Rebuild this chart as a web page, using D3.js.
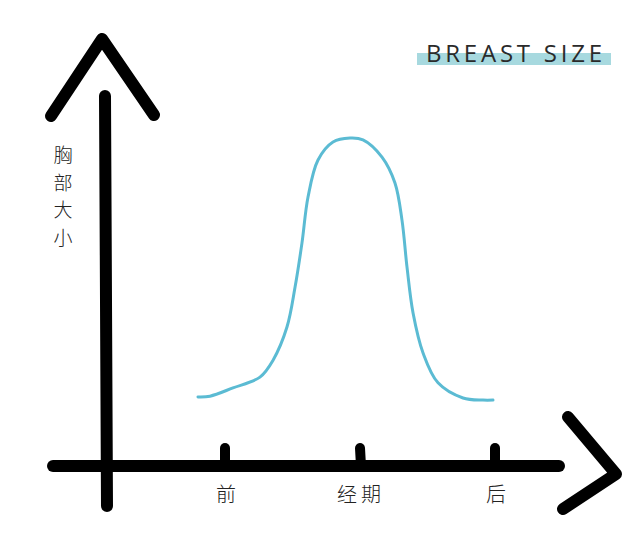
<!DOCTYPE html>
<html><head><meta charset="utf-8">
<script src="https://cdn.jsdelivr.net/npm/d3@7"></script>
<style>html,body{margin:0;padding:0;background:#fff;overflow:hidden}</style>
</head><body>
<svg id="c" width="640" height="546"></svg>
<script>
// ---- data ----
const title = "BREAST SIZE";
const yLabel = ["胸","部","大","小"];
const tickValues = [0, 1, 2];
const tickLabels = ["前", "经期", "后"];
const curveX = [-0.2,-0.111,0.059,0.259,0.356,0.459,0.519,0.570,0.615,0.689,0.8,0.926,1.022,1.163,1.259,1.311,1.348,1.393,1.467,1.578,1.763,1.911,1.985];
const curveY = [19.2,19.4,21.7,24.7,29.4,38.6,49.7,61.9,74.7,85,90,91.1,90.6,85.8,78.6,68.3,55.3,42.5,31.4,23.1,18.9,18.3,18.3];

const svg = d3.select("#c");
const x = d3.scaleLinear().domain([0, 2]).range([225, 495]);
const y = d3.scaleLinear().domain([0, 100]).range([466, 106]);

const ink = "#000";
const axisW = 12;

// title highlight + text
svg.append("rect").attr("x", 417).attr("y", 53).attr("width", 194).attr("height", 12).attr("fill", "#a7d9df");
svg.append("text").attr("x", 426).attr("y", 62)
  .attr("font-family", "Open Sans, sans-serif").attr("font-size", 24).attr("font-weight", 400)
  .attr("fill", "#2a2a2a").attr("textLength", 176).attr("lengthAdjust", "spacing")
  .text(title);

// y axis line
const axisG = svg.append("g").attr("stroke", ink).attr("stroke-width", axisW)
  .attr("stroke-linecap", "round").attr("stroke-linejoin", "round").attr("fill", "none");
axisG.append("line").attr("x1", 105).attr("y1", 96).attr("x2", 107).attr("y2", 506);
// y arrowhead
axisG.append("path").attr("d", d3.line()([[51, 116], [102, 39], [154, 115]]));
// x axis line
axisG.append("line").attr("x1", 53).attr("y1", 466).attr("x2", 559).attr("y2", 466);
// x arrowhead
axisG.append("path").attr("d", d3.line()([[568, 417], [616, 474], [563, 509]]));

// ticks
svg.append("g").selectAll("line").data(tickValues).join("line")
  .attr("x1", d => x(d)).attr("x2", d => x(d) + (d === 1 ? 1 : 0))
  .attr("y1", 448).attr("y2", 466)
  .attr("stroke", ink).attr("stroke-width", 10).attr("stroke-linecap", "round");

// tick labels
svg.append("g").selectAll("text").data(tickValues).join("text")
  .attr("x", d => x(d) + 1).attr("y", 502)
  .attr("text-anchor", "middle")
  .attr("font-family", "Noto Sans CJK SC, sans-serif").attr("font-size", 20).attr("font-weight", 300)
  .attr("letter-spacing", (d, i) => i === 1 ? 4 : 0)
  .attr("fill", "#222")
  .text((d, i) => tickLabels[i]);

// y label
svg.append("g").selectAll("text").data(yLabel).join("text")
  .attr("x", 63).attr("y", (d, i) => 162 + i * 27.5)
  .attr("text-anchor", "middle")
  .attr("font-family", "Noto Sans CJK SC, sans-serif").attr("font-size", 19).attr("font-weight", 300)
  .attr("fill", "#222")
  .text(d => d);

// curve
const pts = curveX.map((v, i) => [v, curveY[i]]);
svg.append("path").datum(pts)
  .attr("d", d3.line().x(d => x(d[0])).y(d => y(d[1])).curve(d3.curveCatmullRom.alpha(0.5)))
  .attr("fill", "none").attr("stroke", "#5bbbd3").attr("stroke-width", 3).attr("stroke-linecap", "round");
</script>
</body></html>
